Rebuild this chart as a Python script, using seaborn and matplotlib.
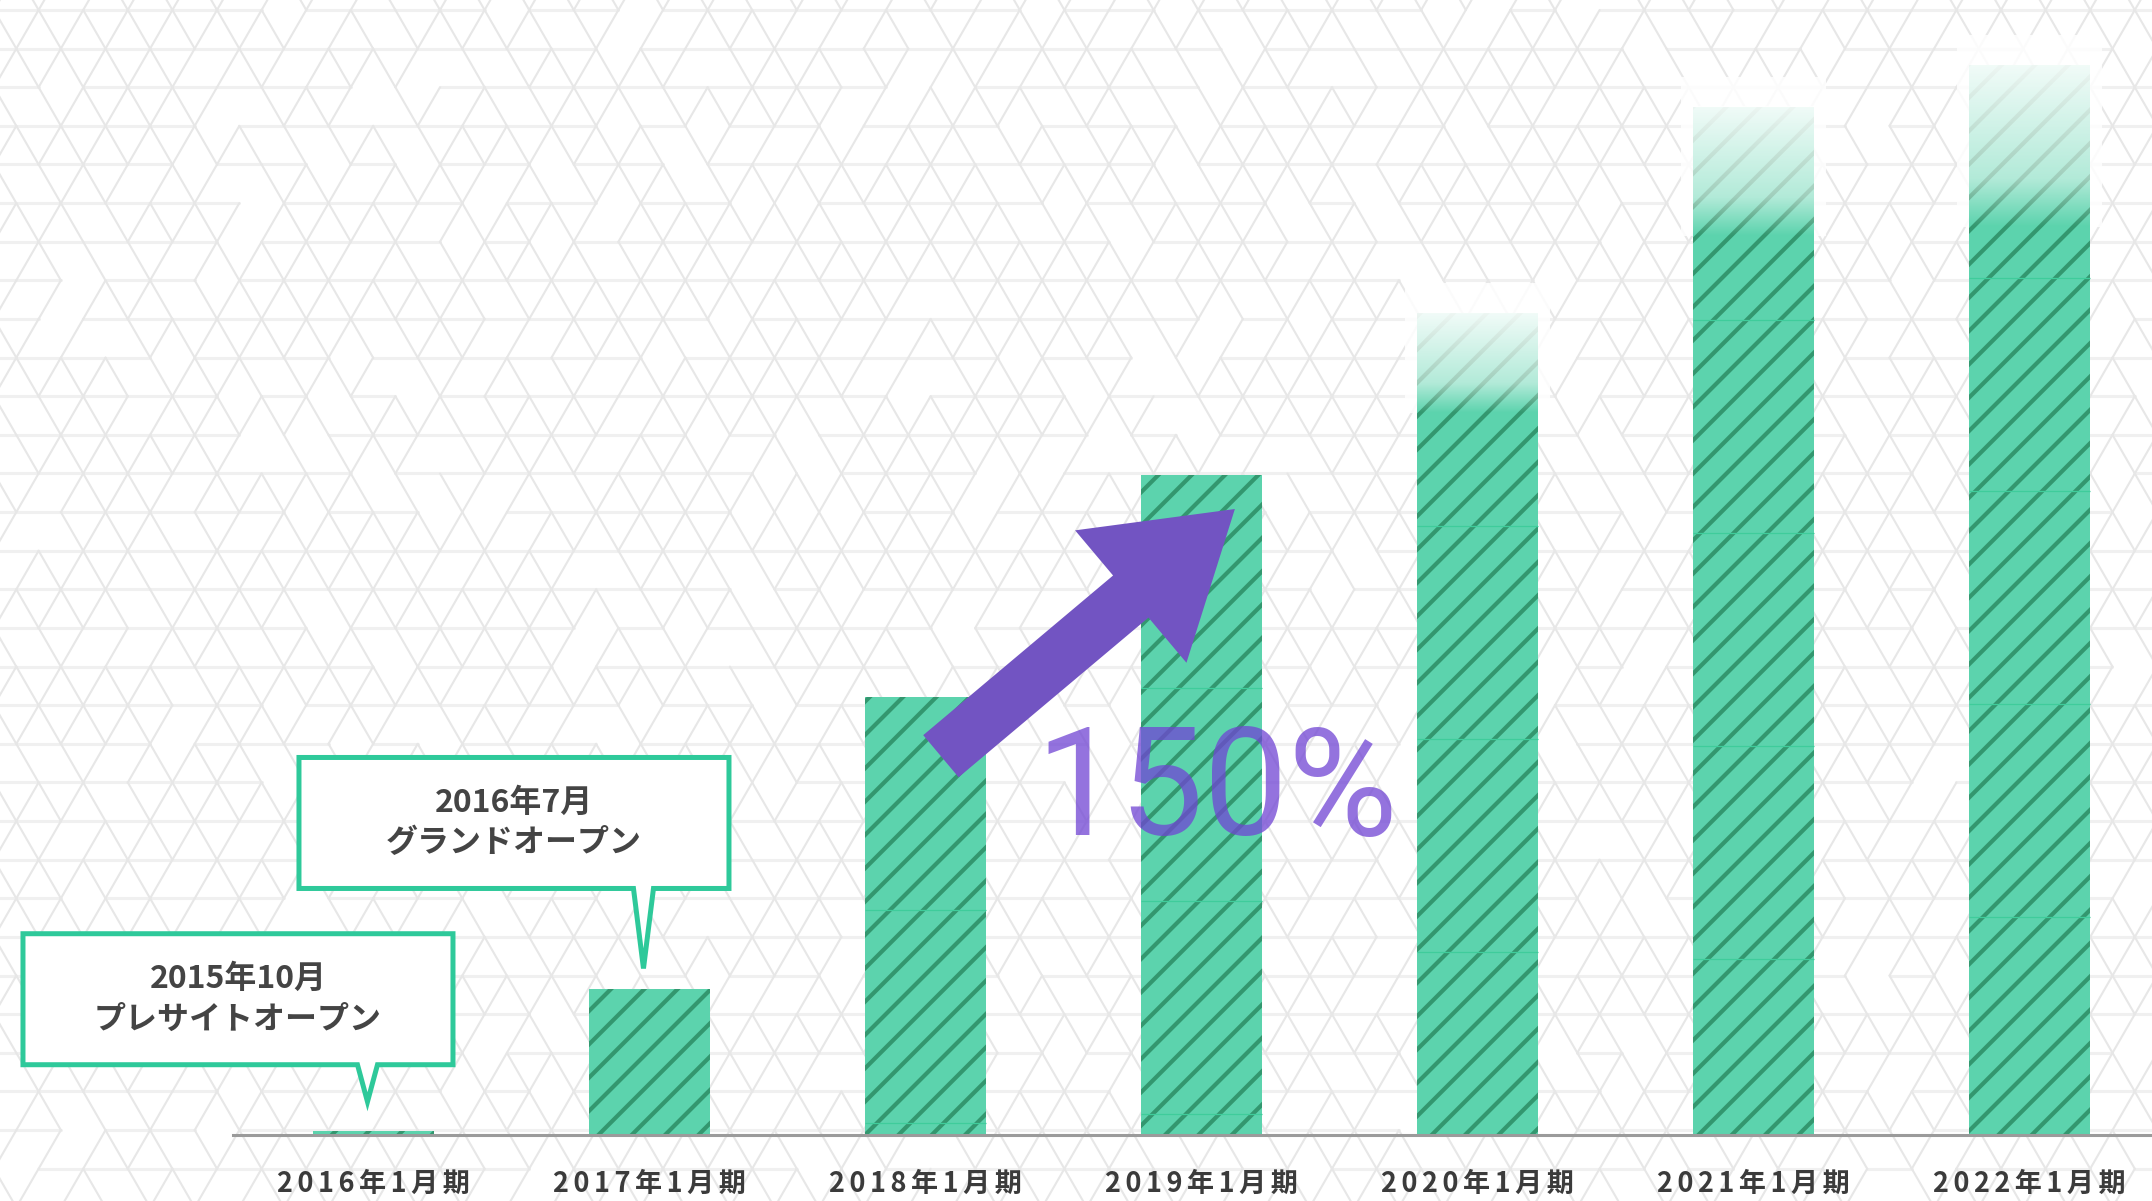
import numpy as np
import matplotlib
matplotlib.use("Agg")
import matplotlib.pyplot as plt
import seaborn as sns
import pandas as pd
from matplotlib.collections import LineCollection
from matplotlib.patches import Polygon, Rectangle
from matplotlib.transforms import IdentityTransform

# ---- data -------------------------------------------------------------
periods = ["2016年1月期", "2017年1月期", "2018年1月期", "2019年1月期",
           "2020年1月期", "2021年1月期", "2022年1月期"]
sales_index = [0.4, 13.6, 40.9, 61.7, 76.8, 96.1, 100.0]
fade_depth = [0, 0, 0, 0, 9.3, 12.1, 15.1]          # soft fade on the latest bars
growth_label = "150%"
callout_texts = ["2015年10月\nプレサイトオープン", "2016年7月\nグランドオープン"]
callout_bars = [0, 1]
callout_gap_px = [29, 21]      # gap between bar top and tail tip
callout_tail_px = [37, 80]     # tail length

# ---- style ------------------------------------------------------------
BAR = "#5cd3ad"
HATCH = "#33976f"
SEAM = "#3fcc9b"
FRAME = "#2ec99a"
TEXT = "#3b3b3b"
PURPLE = "#7254c2"

sns.set_theme(style="white")
plt.rcParams["font.family"] = ["Noto Sans CJK JP", "DejaVu Sans"]
plt.rcParams["hatch.linewidth"] = 3.0

W, H = 2152, 1201
fig = plt.figure(figsize=(W / 100, H / 100), dpi=100)
fig.patch.set_facecolor("white")

# ---- triangular lattice backdrop (some edges left out) -----------------
bg = fig.add_axes([0, 0, 1, 1], zorder=0)
bg.set_xlim(0, W)
bg.set_ylim(H, 0)
bg.axis("off")
side = 44.6
row = side * np.sqrt(3) / 2
y0, x0 = 10.0, 38.6


def keep(r, j, k):
    h = ((r * 73856093) ^ (j * 19349663) ^ (k * 83492791)) & 0xFFFF
    return (h % 100) >= 16


horiz, diag = [], []
for r in range(-1, 33):
    y = y0 + r * row
    for j in range(-2, 52):
        x = x0 + j * side - (r % 2) * side / 2
        if keep(r, j, 1):
            horiz.append([(x, y), (x + side, y)])
        if keep(r, j, 2):
            diag.append([(x, y), (x - side / 2, y + row)])
        if keep(r, j, 3):
            diag.append([(x, y), (x + side / 2, y + row)])
bg.add_collection(LineCollection(horiz, colors="#f0f0f0", linewidths=2.2,
                                 capstyle="round"))
bg.add_collection(LineCollection(diag, colors="#e7e7e7", linewidths=1.5,
                                 capstyle="round"))

# ---- bar chart ----------------------------------------------------------
ax = fig.add_axes([233 / W, 66 / H, 1 - 233 / W, 1135 / H], zorder=1)
ax.patch.set_alpha(0)
df = pd.DataFrame({"period": periods, "value": sales_index})
bar_w = 0.438
sns.barplot(data=df, x="period", y="value", color=BAR, saturation=1,
            width=bar_w, errorbar=None, hatch="/", edgecolor=HATCH,
            linewidth=0, ax=ax, zorder=3)

xlim = (-0.509, 6.444)
ylim = (0, 106.07)
px_y = (ylim[1] - ylim[0]) / 1135.0     # data units per pixel (vertical)
px_x = (xlim[1] - xlim[0]) / (W - 233)  # data units per pixel (horizontal)

# tile seams inside each bar
tile = 213 * px_y
for i, v in enumerate(sales_index):
    k = 1
    while v - k * tile > 0.5:
        ax.hlines(v - k * tile, i - bar_w / 2, i + bar_w / 2, colors=SEAM,
                  linewidth=0.9, zorder=3.5)
        k += 1

# white glow and fade for the latest bars
for i, (v, d) in enumerate(zip(sales_index, fade_depth)):
    if d <= 0:
        continue
    gx = 12 * px_x
    ax.add_patch(Rectangle((i - bar_w / 2 - gx, v - d), bar_w + 2 * gx,
                           d + 30 * px_y, facecolor="white", alpha=0.85,
                           edgecolor="none", zorder=2))
    t = np.linspace(0, 1, 256)
    alpha = np.where(t < 0.7, 0.92 - 0.55 * t, (0.92 - 0.55 * 0.7) * (1 - t) / 0.3)
    grad = np.ones((256, 1, 4))
    grad[:, 0, 3] = alpha
    ax.imshow(grad, extent=[i - bar_w / 2, i + bar_w / 2, v - d, v],
              origin="upper", aspect="auto", zorder=4, interpolation="bilinear")

ax.set_xlim(*xlim)
ax.set_ylim(*ylim)
ax.set_xlabel("")
ax.set_ylabel("")
ax.set_yticks([])
for s in ("top", "right", "left"):
    ax.spines[s].set_visible(False)
ax.spines["bottom"].set_color("#9b9b9b")
ax.spines["bottom"].set_linewidth(2.2)
ax.spines["bottom"].set_zorder(5)
ax.set_xticks(range(len(periods)))
ax.set_xticklabels(["\u2006".join(p) for p in periods], fontsize=19.5,
                   fontweight="bold", color=TEXT)
ax.tick_params(axis="x", length=0, pad=25)

# ---- callouts ---------------------------------------------------------
for text, bi, gap, tail in zip(callout_texts, callout_bars, callout_gap_px,
                               callout_tail_px):
    tx, ty = ax.transData.transform((bi, sales_index[bi]))
    tx -= 6
    ty += gap
    left, right = tx - 344.5, tx + 85.5
    bottom = ty + tail
    top = bottom + 131
    pts = [(left, bottom), (tx - 10, bottom), (tx, ty), (tx + 10, bottom),
           (right, bottom), (right, top), (left, top)]
    ax.add_patch(Polygon(pts, closed=True, transform=IdentityTransform(),
                         facecolor="white", edgecolor=FRAME, linewidth=3.6,
                         joinstyle="miter", clip_on=False, zorder=7))
    ax.text((left + right) / 2, (bottom + top) / 2, text,
            transform=IdentityTransform(), ha="center", va="center",
            multialignment="center", fontsize=23, fontweight="bold",
            color="#444444", linespacing=1.35, zorder=8, clip_on=False)

# ---- growth arrow and label -----------------------------------------------
tail_pt = ax.transData.transform((2.056, 35.4))
tip_pt = ax.transData.transform((3.121, 58.5))
d = tip_pt - tail_pt
u = d / np.hypot(*d)
n = np.array([-u[1], u[0]])
shaft_w, head_w, head_len = 55, 173, 136
base = tip_pt - u * head_len
arrow = [tail_pt + n * shaft_w / 2, base + n * shaft_w / 2, base + n * head_w / 2,
         tip_pt, base - n * head_w / 2, base - n * shaft_w / 2,
         tail_pt - n * shaft_w / 2]
ax.add_patch(Polygon(arrow, closed=True, transform=IdentityTransform(),
                     facecolor=PURPLE, edgecolor="none", clip_on=False, zorder=6))

ax.text(3.054, 28.0, growth_label, ha="center", va="baseline",
        fontsize=108, family="Roboto", color="#7044d4", alpha=0.75, zorder=6)

fig.savefig("out.png", dpi=100)
